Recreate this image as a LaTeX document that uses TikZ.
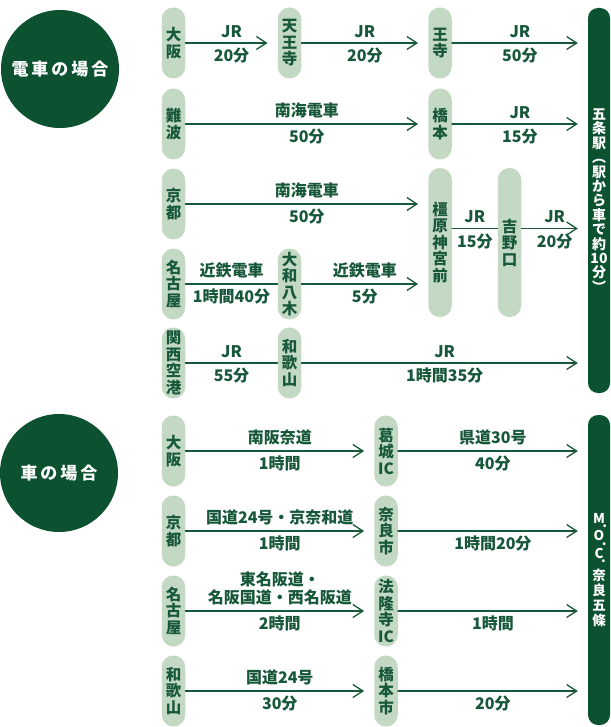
\documentclass[tikz,border=0pt]{standalone}
\usepackage{fontspec}
\setmainfont{Noto Sans CJK JP}
\usetikzlibrary{arrows.meta}
\definecolor{deepgreen}{HTML}{0C5230}
\definecolor{palegreen}{HTML}{C4D9C3}
\definecolor{inkgreen}{HTML}{17573A}
\newcommand{\lowdot}{\rlap{\kern-2.5pt\raisebox{-4.5pt}{.}}}
\begin{document}
\begin{tikzpicture}[x=1pt,y=-1pt,>={Straight Barb[length=10pt,width=13pt]},line join=round,line cap=round,
  font=\fontsize{15.5}{16.5}\selectfont\bfseries,
  pill/.style={fill=palegreen,text=inkgreen,rounded corners=11.5pt,minimum width=23.5pt,minimum height=71pt,inner sep=0pt,align=center},
  goal/.style={fill=deepgreen,text=white,rounded corners=10pt,minimum width=22pt,inner sep=0pt,align=center},
  badge/.style={circle,fill=deepgreen,text=white,minimum size=118pt,inner sep=0pt,font=\fontsize{17}{20}\selectfont\bfseries},
  route/.style={draw=inkgreen,line width=1.3pt},
  tip/.style={->,shorten >=10pt},
  up/.style={midway,above=3pt,text=inkgreen,inner sep=2pt,align=center,font=\fontsize{16}{18}\selectfont\bfseries},
  down/.style={midway,below=2.5pt,text=inkgreen,inner sep=2pt,font=\fontsize{16}{18}\selectfont\bfseries}]
\useasboundingbox (0,0) rectangle (610,727);
\node[badge] (train) at (60,69) {電\kern3pt 車\kern3pt の\kern3pt 場\kern3pt 合};
\node[badge] (car) at (59,473) {車\kern3pt の\kern3pt 場\kern3pt 合};
\node[goal,minimum height=385pt,font=\fontsize{14}{14.4}\selectfont\bfseries] (gojo) at (599,200.5)
  {五\\条\\駅\\︵\\駅\\か\\ら\\車\\で\\約\\10\\分\\︶};
\node[goal,minimum height=310pt,font=\fontsize{13.5}{15}\selectfont\bfseries] (moc) at (599,570)
  {M\lowdot\\[2.5pt]O\lowdot\\[2.5pt]C\lowdot\\[5pt]奈\\良\\五\\條};
\node[pill] (osakaA) at (173.5,43) {大\\阪};
\node[pill] (tennoji) at (289.5,43) {天\\王\\寺};
\node[pill] (oji) at (440,43) {王\\寺};
\node[pill] (namba) at (173.5,124) {難\\波};
\node[pill] (hashimoto) at (440,124) {橋\\本};
\node[pill] (kyotoA) at (173.5,204) {京\\都};
\node[pill,minimum height=149pt] (kashihara) at (440,242.5) {橿\\原\\神\\宮\\前};
\node[pill,minimum height=149pt] (yoshino) at (509.5,242.5) {吉\\野\\口};
\node[pill] (nagoyaA) at (173.5,284) {名\\古\\屋};
\node[pill] (yagi) at (289.5,284) {大\\和\\八\\木};
\node[pill] (kix) at (173.5,363) {関\\西\\空\\港};
\node[pill] (wakayamaA) at (289.5,363) {和\\歌\\山};
\node[pill] (osakaB) at (173.5,451) {大\\阪};
\node[pill] (katsuragi) at (386,451) {葛\\城\\IC};
\node[pill] (kyotoB) at (173.5,531) {京\\都};
\node[pill] (nara) at (386,531) {奈\\良\\市};
\node[pill] (nagoyaB) at (173.5,611) {名\\古\\屋};
\node[pill] (horyuji) at (386,611) {法\\隆\\寺\\IC};
\node[pill] (wakayamaB) at (173.5,691) {和\\歌\\山};
\node[pill] (hashimotoB) at (386,691) {橋\\本\\市};
\draw[route,tip] (osakaA) -- (tennoji) node[up]{JR} node[down]{20分};
\draw[route,tip] (tennoji) -- (oji) node[up]{JR} node[down]{20分};
\draw[route,tip] (oji.east) -- (oji.east -| gojo.west) node[up]{JR} node[down]{50分};
\draw[route,tip] (namba) -- (hashimoto) node[up]{南海電車} node[down]{50分};
\draw[route,tip] (hashimoto.east) -- (hashimoto.east -| gojo.west) node[up]{JR} node[down]{15分};
\draw[route,tip] (kyotoA.east) -- (kyotoA.east -| kashihara.west) node[up]{南海電車} node[down]{50分};
\draw[route] ([yshift=14pt]kashihara.east) -- ([yshift=14pt]yoshino.west) node[up]{JR} node[down]{15分};
\draw[route,tip] ([yshift=14pt]yoshino.east) -- ([yshift=14pt]yoshino.east -| gojo.west) node[up]{JR} node[down]{20分};
\draw[route] (nagoyaA) -- (yagi) node[up]{近鉄電車} node[down]{1時間40分};
\draw[route,tip] (yagi.east) -- (yagi.east -| kashihara.west) node[up]{近鉄電車} node[down]{5分};
\draw[route] (kix) -- (wakayamaA) node[up]{JR} node[down]{55分};
\draw[route,tip] (wakayamaA.east) -- (wakayamaA.east -| gojo.west) node[up]{JR} node[down]{1時間35分};
\draw[route,tip] (osakaB) -- (katsuragi) node[up]{南阪奈道} node[down]{1時間};
\draw[route,tip] (katsuragi.east) -- (katsuragi.east -| moc.west) node[up]{県道30号} node[down]{40分};
\draw[route,tip] (kyotoB) -- (nara) node[up]{国道24号・京奈和道} node[down]{1時間};
\draw[route,tip] (nara.east) -- (nara.east -| moc.west) node[down]{1時間20分};
\draw[route,tip] (nagoyaB) -- (horyuji) node[up]{東名阪道・\\名阪国道・西名阪道} node[down]{2時間};
\draw[route,tip] (horyuji.east) -- (horyuji.east -| moc.west) node[down]{1時間};
\draw[route,tip] (wakayamaB) -- (hashimotoB) node[up]{国道24号} node[down]{30分};
\draw[route,tip] (hashimotoB.east) -- (hashimotoB.east -| moc.west) node[down]{20分};
\end{tikzpicture}
\end{document}
